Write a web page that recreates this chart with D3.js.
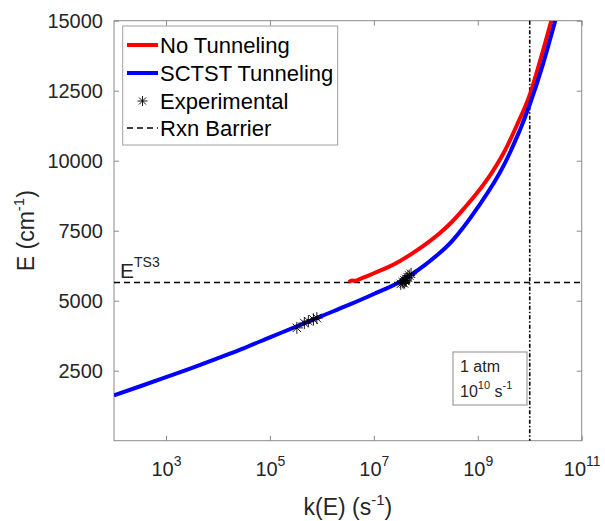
<!DOCTYPE html>
<html>
<head>
<meta charset="utf-8">
<script src="https://cdn.jsdelivr.net/npm/d3@7"></script>
<style>
  body { margin: 0; background: #fff; }
  svg { font-family: "Liberation Sans", Arial, sans-serif; }
</style>
</head>
<body>
<svg id="chart" width="605" height="521"></svg>
<script>
// E (cm^-1) vs k(E) (s^-1)
const blueK = [1e2, 3.2e2, 1e3, 3.2e3, 1e4, 3.2e4, 1e5, 3.2e5, 1e6, 3.2e6, 1e7, 3.2e7, 1e8, 3.2e8, 1e9, 3.2e9, 1e10, 1.8e10, 3.1e10];
const blueE = [1620, 1945, 2270, 2605, 2950, 3310, 3690, 4075, 4455, 4840, 5240, 5680, 6300, 7130, 8330, 9850, 12000, 13450, 15000];

const redK = [3.3e6, 3.8e6, 4.4e6, 5.6e6, 7.5e6, 1e7, 1.8e7, 3.2e7, 5.6e7, 1e8, 1.8e8, 3.2e8, 5.6e8, 1e9, 1.8e9, 3.2e9, 5.6e9, 1e10, 1.6e10, 2.6e10];
const redE = [5660, 5720, 5710, 5790, 5880, 5980, 6180, 6420, 6700, 7020, 7390, 7820, 8320, 8880, 9530, 10300, 11250, 12350, 13600, 15000];

const expK = [3.3e5, 4.6e5, 5.5e5, 6.9e5, 8.0e5, 3.3e7, 3.6e7, 3.8e7, 3.9e7, 4.1e7, 4.2e7, 4.5e7, 4.8e7, 5.2e7];
const expE = [4030, 4200, 4270, 4330, 4380, 5600, 5660, 5620, 5720, 5700, 5780, 5840, 5900, 5960];

const barrierE = 5650;
const atmK = 1e10;

const xTickExp = [3, 5, 7, 9, 11];
const yTicks = [2500, 5000, 7500, 10000, 12500, 15000];

const legendItems = ["No Tunneling", "SCTST Tunneling", "Experimental", "Rxn Barrier"];

const pLeft = 114, pRight = 581.7, pTop = 20.7, pBottom = 440.7;
const axisColor = "#8a8a8a", textColor = "#262626";

const svg = d3.select("#chart");

const x = d3.scaleLog().domain([1e2, 1e11]).range([pLeft, pRight]);
const y = d3.scaleLinear().domain([0, 15000]).range([pBottom, pTop]);

svg.append("defs").append("clipPath").attr("id", "plot")
  .append("rect").attr("x", pLeft).attr("y", pTop)
  .attr("width", pRight - pLeft).attr("height", pBottom - pTop);

// axes, ticks point inward on all four sides
const xTicks = xTickExp.map(e => Math.pow(10, e));

const gx = svg.append("g").attr("transform", `translate(0,${pBottom})`)
  .call(d3.axisBottom(x).tickValues(xTicks).tickSizeInner(-5).tickSizeOuter(0).tickFormat(""));
svg.append("g").attr("transform", `translate(0,${pTop})`)
  .call(d3.axisTop(x).tickValues(xTicks).tickSizeInner(-5).tickSizeOuter(0).tickFormat(""));
const gy = svg.append("g").attr("transform", `translate(${pLeft},0)`)
  .call(d3.axisLeft(y).tickValues(yTicks).tickSizeInner(-5).tickSizeOuter(0)
    .tickPadding(11).tickFormat(d3.format("d")));
svg.append("g").attr("transform", `translate(${pRight},0)`)
  .call(d3.axisRight(y).tickValues(yTicks).tickSizeInner(-5).tickSizeOuter(0).tickFormat(""));

svg.selectAll(".domain").remove();
svg.selectAll(".tick line").attr("stroke", axisColor);

gy.selectAll("text").attr("font-size", 20).attr("fill", textColor)
  .attr("font-family", "Liberation Sans, Arial, sans-serif");

gx.selectAll(".tick text").remove();
gx.selectAll(".tick").each(function(d, i) {
  const t = d3.select(this).append("text")
    .attr("y", 35.3).attr("text-anchor", "middle")
    .attr("fill", textColor).attr("font-size", 20)
    .attr("font-family", "Liberation Sans, Arial, sans-serif");
  t.append("tspan").text("10");
  t.append("tspan").attr("dy", -10).attr("font-size", 14).text(xTickExp[i]);
});

svg.append("rect").attr("x", pLeft).attr("y", pTop)
  .attr("width", pRight - pLeft).attr("height", pBottom - pTop)
  .attr("fill", "none").attr("stroke", axisColor);

// axis labels
const xl = svg.append("text").attr("x", (pLeft + pRight) / 2).attr("y", 515)
  .attr("text-anchor", "middle").attr("font-size", 23).attr("fill", textColor);
xl.append("tspan").text("k(E) (s");
xl.append("tspan").attr("dy", -10).attr("font-size", 15).text("-1");
xl.append("tspan").attr("dy", 10).text(")");

const yl = svg.append("text")
  .attr("transform", `translate(34,${(pTop + pBottom) / 2}) rotate(-90)`)
  .attr("text-anchor", "middle").attr("font-size", 23).attr("fill", textColor);
yl.append("tspan").text("E (cm");
yl.append("tspan").attr("dy", -10).attr("font-size", 15).text("-1");
yl.append("tspan").attr("dy", 10).text(")");

// reference lines
svg.append("line")
  .attr("x1", pLeft).attr("x2", pRight)
  .attr("y1", y(barrierE)).attr("y2", y(barrierE))
  .attr("stroke", "#000").attr("stroke-width", 1.6).attr("stroke-dasharray", "6,4");
svg.append("line")
  .attr("x1", x(atmK)).attr("x2", x(atmK))
  .attr("y1", pTop).attr("y2", pBottom)
  .attr("stroke", "#000").attr("stroke-width", 1.6).attr("stroke-dasharray", "4,2,1.5,2");

// curves
const line = d3.line().x(d => x(d[0])).y(d => y(d[1])).curve(d3.curveMonotoneX);
const plot = svg.append("g").attr("clip-path", "url(#plot)");

plot.append("path").datum(d3.zip(redK, redE))
  .attr("d", line).attr("fill", "none").attr("stroke", "#f00").attr("stroke-width", 4);
plot.append("path").datum(d3.zip(blueK, blueE))
  .attr("d", line).attr("fill", "none").attr("stroke", "#00f").attr("stroke-width", 4);

function star(g, cx, cy, r) {
  const a = r * Math.SQRT1_2;
  g.append("path")
    .attr("d", `M${cx - r},${cy}H${cx + r}M${cx},${cy - r}V${cy + r}` +
      `M${cx - a},${cy - a}L${cx + a},${cy + a}M${cx - a},${cy + a}L${cx + a},${cy - a}`)
    .attr("stroke", "#000").attr("stroke-width", 0.9).attr("fill", "none");
}
d3.zip(expK, expE).forEach(d => star(plot, x(d[0]), y(d[1]), 6));

// E^TS3 label
const ets = svg.append("text").attr("x", 120).attr("y", 278)
  .attr("font-size", 21).attr("fill", textColor);
ets.append("tspan").text("E");
ets.append("tspan").attr("dy", -11).attr("font-size", 14).text("TS3");

// 1 atm annotation box
svg.append("rect").attr("x", 453).attr("y", 352).attr("width", 74).attr("height", 53)
  .attr("fill", "#fff").attr("stroke", axisColor);
svg.append("text").attr("x", 460).attr("y", 372).attr("font-size", 16)
  .attr("fill", textColor).text("1 atm");
const kt = svg.append("text").attr("x", 460).attr("y", 397).attr("font-size", 16).attr("fill", textColor);
kt.append("tspan").text("10");
kt.append("tspan").attr("dy", -8).attr("font-size", 11).text("10");
kt.append("tspan").attr("dy", 8).text(" s");
kt.append("tspan").attr("dy", -8).attr("font-size", 11).text("-1");

// legend
const lg = svg.append("g");
lg.append("rect").attr("x", 122.7).attr("y", 26).attr("width", 215).attr("height", 119)
  .attr("fill", "#fff").attr("stroke", "#a0a0a0");
const rowY = [45, 73, 101, 128];
lg.append("line").attr("x1", 127).attr("x2", 158).attr("y1", rowY[0]).attr("y2", rowY[0])
  .attr("stroke", "#f00").attr("stroke-width", 4);
lg.append("line").attr("x1", 127).attr("x2", 158).attr("y1", rowY[1]).attr("y2", rowY[1])
  .attr("stroke", "#00f").attr("stroke-width", 4);
star(lg, 142.5, rowY[2], 5);
lg.append("line").attr("x1", 127).attr("x2", 158).attr("y1", rowY[3]).attr("y2", rowY[3])
  .attr("stroke", "#000").attr("stroke-width", 1.6).attr("stroke-dasharray", "6,4");
lg.selectAll("text.item").data(legendItems).enter().append("text")
  .attr("class", "item")
  .attr("x", 160).attr("y", (d, i) => rowY[i] + 8)
  .attr("font-size", 22).attr("fill", "#000")
  .text(d => d);
</script>
</body>
</html>
